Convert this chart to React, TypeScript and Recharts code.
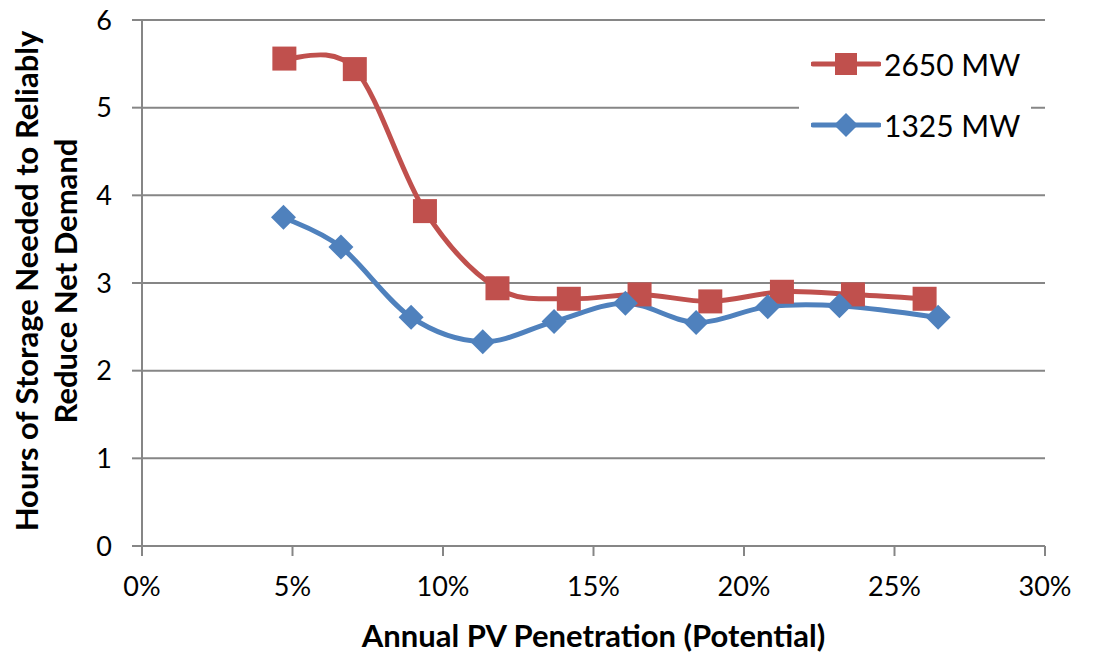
import React from 'react';
import { LineChart, Line, XAxis, YAxis, CartesianGrid, Legend, Label } from 'recharts';

const RED = '#C0504D';
const BLUE = '#4F81BD';
const GRID = '#868686';
const FONT = 'Lato, "Open Sans", sans-serif';

const xTicks = [0, 5, 10, 15, 20, 25, 30];
const yTicks = [0, 1, 2, 3, 4, 5, 6];

const series2650X = [4.73, 7.07, 9.4, 11.81, 14.18, 16.53, 18.88, 21.26, 23.62, 26.0];
const series2650Y = [5.56, 5.44, 3.82, 2.94, 2.82, 2.87, 2.79, 2.9, 2.87, 2.82];
const series1325X = [4.7, 6.61, 8.94, 11.32, 13.69, 16.06, 18.41, 20.79, 23.17, 26.45];
const series1325Y = [3.75, 3.41, 2.61, 2.33, 2.56, 2.77, 2.55, 2.73, 2.74, 2.61];

const data2650 = series2650X.map((x, i) => ({ x, y: series2650Y[i] }));
const data1325 = series1325X.map((x, i) => ({ x, y: series1325Y[i] }));

// Excel-like smoothing (cardinal spline, tension 1/6)
function excelCurve(context: any) {
  let pts: number[][] = [];
  return {
    areaStart() {},
    areaEnd() {},
    lineStart() {
      pts = [];
    },
    lineEnd() {
      if (!pts.length) return;
      context.moveTo(pts[0][0], pts[0][1]);
      const t = 1 / 6;
      for (let i = 0; i < pts.length - 1; i++) {
        const p0 = pts[i - 1] || pts[i];
        const p1 = pts[i];
        const p2 = pts[i + 1];
        const p3 = pts[i + 2] || p2;
        context.bezierCurveTo(
          p1[0] + (p2[0] - p0[0]) * t,
          p1[1] + (p2[1] - p0[1]) * t,
          p2[0] - (p3[0] - p1[0]) * t,
          p2[1] - (p3[1] - p1[1]) * t,
          p2[0],
          p2[1]
        );
      }
    },
    point(x: number, y: number) {
      pts.push([+x, +y]);
    },
  };
}

const SquareDot = (props: any) => {
  const { cx, cy, index } = props;
  if (cx == null || cy == null) return null;
  return <rect key={`s${index}`} x={cx - 12} y={cy - 12} width={24} height={24} fill={RED} />;
};

const DiamondDot = (props: any) => {
  const { cx, cy, index } = props;
  if (cx == null || cy == null) return null;
  const r = 12.5;
  return (
    <polygon
      key={`d${index}`}
      points={`${cx},${cy - r} ${cx + r},${cy} ${cx},${cy + r} ${cx - r},${cy}`}
      fill={BLUE}
    />
  );
};

const legendItems = [
  { name: '2650 MW', color: RED, shape: 'square' },
  { name: '1325 MW', color: BLUE, shape: 'diamond' },
];

const renderLegend = () => (
  <div style={{ background: '#fff', width: 232, height: 128, position: 'relative' }}>
    {legendItems.map((it, i) => (
      <div
        key={it.name}
        style={{
          position: 'absolute',
          left: 12,
          top: 14 + i * 61,
          height: 36,
          display: 'flex',
          alignItems: 'center',
        }}
      >
        <svg width={70} height={36}>
          <line x1={2} y1={18} x2={68} y2={18} stroke={it.color} strokeWidth={5} strokeLinecap="round" />
          {it.shape === 'square' ? (
            <rect x={24} y={7} width={22} height={22} fill={it.color} />
          ) : (
            <polygon points="35,6 47,18 35,30 23,18" fill={it.color} />
          )}
        </svg>
        <span style={{ fontFamily: FONT, fontSize: 30, color: '#000', marginLeft: 3 }}>{it.name}</span>
      </div>
    ))}
  </div>
);

const YTitle = () => (
  <g>
    <text
      transform="translate(38,281) rotate(-90)"
      textAnchor="middle"
      fontFamily={FONT}
      fontWeight={700}
      fontSize={31}
      fill="#000"
    >
      Hours of Storage Needed to Reliably
    </text>
    <text
      transform="translate(77,281) rotate(-90)"
      textAnchor="middle"
      fontFamily={FONT}
      fontWeight={700}
      fontSize={31}
      fill="#000"
    >
      Reduce Net Demand
    </text>
  </g>
);

export default function App() {
  return (
    <div style={{ position: 'absolute', left: 0, top: 0, background: '#fff' }}>
      <LineChart width={1093} height={655} margin={{ top: 20, right: 48, bottom: 0, left: 0 }}>
        <CartesianGrid vertical={false} stroke={GRID} strokeWidth={2} />
        <XAxis
          type="number"
          dataKey="x"
          domain={[0, 30]}
          ticks={xTicks}
          tickFormatter={(v: number) => `${v}%`}
          height={109}
          stroke={GRID}
          strokeWidth={2}
          tickSize={10}
          tickMargin={21}
          tick={{ fill: '#000', fontSize: 27, fontFamily: FONT }}
          interval={0}
        >
          <Label
            value="Annual PV Penetration (Potential)"
            position="insideBottom"
            offset={8}
            style={{ fill: '#000', fontSize: 31, fontWeight: 700, fontFamily: FONT }}
          />
        </XAxis>
        <YAxis
          type="number"
          domain={[0, 6]}
          ticks={yTicks}
          width={142}
          stroke={GRID}
          strokeWidth={2}
          tickSize={10}
          tickMargin={20}
          tick={{ fill: '#000', fontSize: 27, fontFamily: FONT }}
          interval={0}
        >
          <Label content={<YTitle />} />
        </YAxis>
        <Legend
          layout="vertical"
          align="center"
          verticalAlign="middle"
          content={renderLegend}
          wrapperStyle={{ position: 'absolute', left: 799, top: 32, width: 232, height: 128 }}
        />
        <Line
          data={data2650}
          dataKey="y"
          name="2650 MW"
          type={excelCurve as any}
          stroke={RED}
          strokeWidth={5}
          dot={<SquareDot />}
          activeDot={false}
          isAnimationActive={false}
        />
        <Line
          data={data1325}
          dataKey="y"
          name="1325 MW"
          type={excelCurve as any}
          stroke={BLUE}
          strokeWidth={5}
          dot={<DiamondDot />}
          activeDot={false}
          isAnimationActive={false}
        />
      </LineChart>
    </div>
  );
}
